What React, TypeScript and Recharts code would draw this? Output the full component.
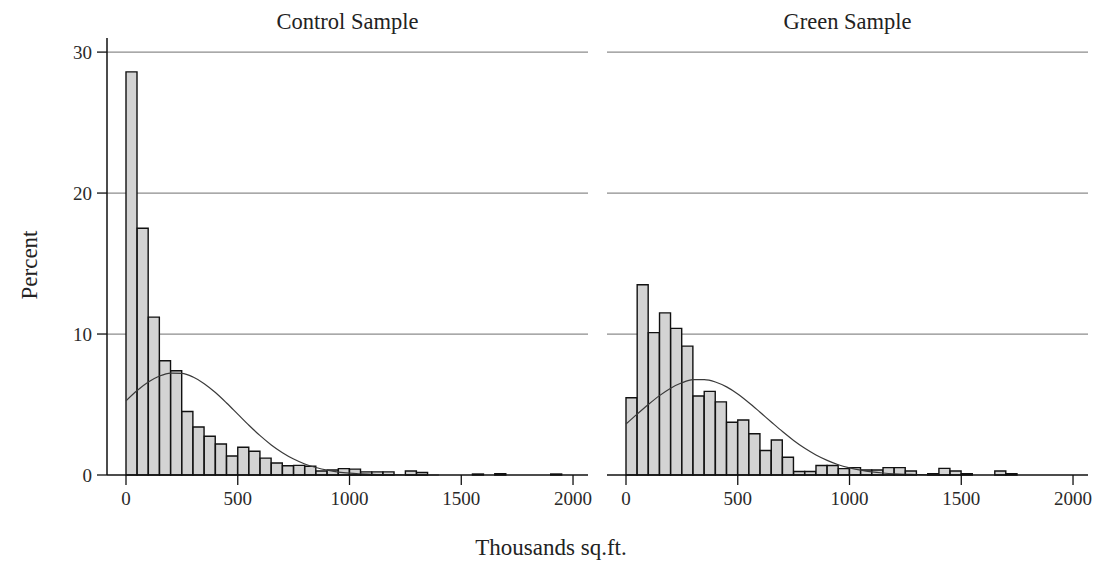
import { Bar, CartesianGrid, ComposedChart, Line, XAxis, YAxis } from "recharts";

// bin midpoints, thousands sq.ft. (bins are 50 wide)
const binMid = [
	25, 75, 125, 175, 225, 275, 325, 375, 425, 475, 525, 575, 625, 675, 725, 775,
	825, 875, 925, 975, 1025, 1075, 1125, 1175, 1225, 1275, 1325, 1375, 1425,
	1475, 1525, 1575, 1625, 1675, 1725, 1775, 1825, 1875, 1925, 1975,
];

// percent of buildings per bin
const controlPct = [
	28.6, 17.5, 11.2, 8.1, 7.4, 4.5, 3.4, 2.75, 2.2, 1.35, 1.97, 1.68, 1.2, 0.85,
	0.66, 0.68, 0.62, 0.28, 0.36, 0.45, 0.42, 0.22, 0.22, 0.22, 0, 0.28, 0.18, 0,
	0, 0, 0, 0.07, 0, 0.1, 0, 0, 0, 0, 0.07, 0,
];
const greenPct = [
	5.48, 13.5, 10.1, 11.5, 10.4, 9.14, 5.6, 5.93, 5.19, 3.74, 3.9, 2.93, 1.74,
	2.48, 1.26, 0.25, 0.25, 0.67, 0.67, 0.45, 0.52, 0.36, 0.36, 0.52, 0.52, 0.28,
	0, 0.1, 0.47, 0.28, 0.1, 0, 0, 0.28, 0.1, 0, 0, 0, 0, 0,
];

const curveX = [
	0, 50, 100, 150, 200, 250, 300, 350, 400, 450, 500, 550, 600, 650, 700, 750,
	800, 850, 900, 950, 1000, 1050, 1100, 1150, 1200, 1250, 1300, 1350, 1400,
];
const controlFit = [
	5.26, 5.99, 6.59, 7.02, 7.23, 7.21, 6.95, 6.48, 5.85, 5.11, 4.32, 3.53, 2.79,
	2.13, 1.58, 1.13, 0.78, 0.53, 0.34, 0.21, 0.13, 0.08, 0.04, 0.02, 0.01, 0, 0,
	0, 0,
];
const greenFit = [
	3.62, 4.32, 5.0, 5.63, 6.16, 6.54, 6.76, 6.77, 6.6, 6.25, 5.75, 5.13, 4.45,
	3.76, 3.08, 2.45, 1.89, 1.42, 1.04, 0.73, 0.51, 0.34, 0.22, 0.14, 0.085, 0.05,
	0.03, 0.015, 0.01,
];

const xTicks = [0, 500, 1000, 1500, 2000];
const yTicks = [0, 10, 20, 30];
const gridValues = [10, 20, 30];

const font = '"Liberation Serif", "Times New Roman", serif';
const xDomain = [-85, 2067];

type PanelProps = {
	title: string;
	left: number;
	width: number;
	marginLeft: number;
	pct: number[];
	fit: number[];
	showY: boolean;
};

const Panel = ({ title, left, width, marginLeft, pct, fit, showY }: PanelProps) => {
	const bins = binMid.map((mid, i) => ({ mid, pct: pct[i] }));
	const curve = curveX.map((x, i) => ({ x, fit: fit[i] }));
	const plotLeft = left + marginLeft + (showY ? 107 : 0);
	const plotWidth = width - marginLeft - (showY ? 107 : 0) - 12;

	return (
		<>
			<div
				style={{
					position: "absolute",
					left: plotLeft,
					width: plotWidth,
					top: 8,
					textAlign: "center",
					fontFamily: font,
					fontSize: 22.5,
					lineHeight: "27px",
					color: "#222",
				}}
			>
				{title}
			</div>
			<div style={{ position: "absolute", left, top: 0 }}>
				<ComposedChart
					width={width}
					height={568}
					data={bins}
					barCategoryGap={0}
					barGap={0}
					margin={{ top: 38, right: 12, bottom: 63, left: marginLeft }}
				>
					<CartesianGrid
						vertical={false}
						horizontalValues={gridValues}
						stroke="#8c8c8c"
						strokeWidth={1.3}
					/>
					<XAxis
						dataKey="mid"
						type="number"
						domain={xDomain}
						ticks={xTicks}
						interval={0}
						height={30}
						tickSize={10}
						tickMargin={7}
						axisLine={{ stroke: "#111", strokeWidth: 1.5 }}
						tickLine={{ stroke: "#111", strokeWidth: 1.3 }}
						tick={{ fontSize: 19, fontFamily: font, fill: "#2a2a2a" }}
					/>
					<XAxis xAxisId="fit" dataKey="x" type="number" domain={xDomain} hide />
					<YAxis
						domain={[0, 31]}
						ticks={yTicks}
						interval={0}
						hide={!showY}
						width={107}
						tickSize={10}
						tickMargin={5}
						axisLine={{ stroke: "#111", strokeWidth: 1.5 }}
						tickLine={{ stroke: "#111", strokeWidth: 1.3 }}
						tick={{ fontSize: 19, fontFamily: font, fill: "#2a2a2a" }}
					/>
					<Bar
						dataKey="pct"
						fill="#d3d3d3"
						stroke="#111"
						strokeWidth={1.4}
						isAnimationActive={false}
					/>
					<Line
						xAxisId="fit"
						data={curve}
						dataKey="fit"
						type="monotone"
						stroke="#3a3a3a"
						strokeWidth={1.2}
						dot={false}
						activeDot={false}
						isAnimationActive={false}
					/>
				</ComposedChart>
			</div>
		</>
	);
};

export default function App() {
	return (
		<div
			style={{
				position: "absolute",
				left: 0,
				top: 0,
				width: 1100,
				height: 568,
				background: "#fff",
			}}
		>
			<Panel
				title="Control Sample"
				left={0}
				width={600}
				marginLeft={0}
				pct={controlPct}
				fit={controlFit}
				showY
			/>
			<Panel
				title="Green Sample"
				left={600}
				width={500}
				marginLeft={7}
				pct={greenPct}
				fit={greenFit}
				showY={false}
			/>
			<div
				style={{
					position: "absolute",
					left: 30,
					top: 265,
					transform: "translate(-50%, -50%) rotate(-90deg)",
					fontFamily: font,
					fontSize: 23,
					color: "#222",
					whiteSpace: "nowrap",
				}}
			>
				Percent
			</div>
			<div
				style={{
					position: "absolute",
					left: 551,
					top: 548,
					transform: "translate(-50%, -50%)",
					fontFamily: font,
					fontSize: 23,
					color: "#222",
					whiteSpace: "nowrap",
				}}
			>
				Thousands sq.ft.
			</div>
		</div>
	);
}
